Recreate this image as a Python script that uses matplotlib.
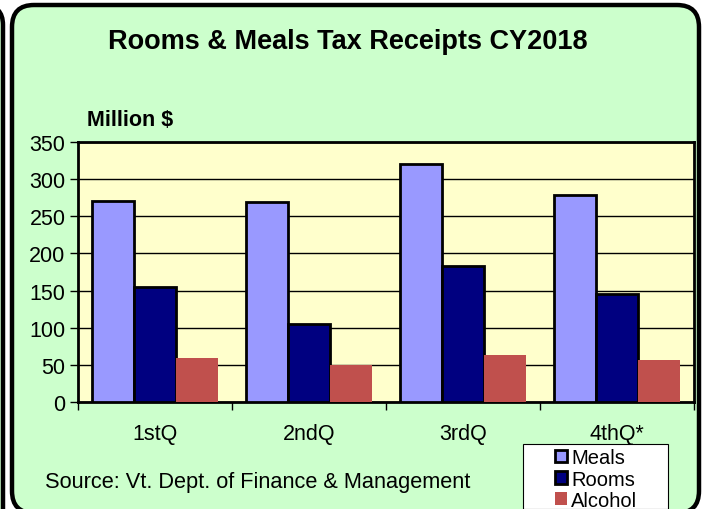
import numpy as np
import matplotlib
matplotlib.use('Agg')
import matplotlib.pyplot as plt
from matplotlib.patches import FancyBboxPatch, Rectangle

plt.rcParams['font.family'] = ['Liberation Sans', 'DejaVu Sans']

# Data
quarters = ['1stQ', '2ndQ', '3rdQ', '4thQ*']
meals = [270, 269, 321, 278]
rooms = [155, 105, 183, 145]
alcohol = [59, 50, 63, 56]
series_names = ['Meals', 'Rooms', 'Alcohol']
colors = ['#9999FF', '#000080', '#C0504D']

W, H = 705, 510
fig = plt.figure(figsize=(W / 100, H / 100), dpi=100)
fig.patch.set_facecolor('white')

# rounded panel frames (pixel coords -> figure fraction)
def px_box(x0, y0, x1, y1, r, fc):
    p = FancyBboxPatch((x0 / W, 1 - y1 / H), (x1 - x0) / W, (y1 - y0) / H,
                       boxstyle='round,pad=0,rounding_size=%f' % (r / W),
                       transform=fig.transFigure, facecolor=fc, edgecolor='black',
                       linewidth=3.2, zorder=-2, mutation_aspect=W / H)
    fig.patches.append(p)

px_box(-120, 6, 3, 540, 20, '#CCFFCC')
px_box(12, 6, 699, 514, 22, '#CCFFCC')

ax = fig.add_axes([78 / W, 1 - 403 / H, (694 - 78) / W, (403 - 143) / H])
ax.set_facecolor('#FFFFCC')

x = np.arange(len(quarters))
bw = 0.272
ax.bar(x - bw, meals, bw, color=colors[0], edgecolor='black', linewidth=2, label=series_names[0], zorder=3)
ax.bar(x, rooms, bw, color=colors[1], edgecolor='black', linewidth=2, label=series_names[1], zorder=3)
ax.bar(x + bw, alcohol, bw, color=colors[2], edgecolor='none', label=series_names[2], zorder=3)

ax.set_xlim(-0.5, len(quarters) - 0.5)
ax.set_ylim(0, 350)
ax.set_yticks(np.arange(0, 351, 50))
ax.yaxis.grid(True, color='black', linewidth=1.0, zorder=1)
ax.set_axisbelow(True)

ax.set_xticks(np.arange(-0.5, len(quarters), 1.0))
ax.set_xticklabels([])
ax.set_xticks(x, minor=True)
ax.set_xticklabels(quarters, minor=True)
ax.tick_params(axis='x', which='major', length=6, width=1, direction='out', color='black')
ax.tick_params(axis='x', which='minor', length=0, pad=15, labelsize=15.5)
ax.tick_params(axis='y', length=6, width=1, labelsize=15.5, pad=3)

for s in ax.spines.values():
    s.set_linewidth(2)
    s.set_color('black')

fig.text(348 / W, 1 - 42 / H, 'Rooms & Meals Tax Receipts CY2018', ha='center', va='center',
         fontsize=19.5, fontweight='bold')
fig.text(87 / W, 1 - 120 / H, 'Million $', ha='left', va='center', fontsize=15.5, fontweight='bold')
fig.text(45 / W, 1 - 483 / H, 'Source: Vt. Dept. of Finance & Management', ha='left', va='center',
         fontsize=15.7)

# legend box
fig.patches.append(Rectangle((523 / W, 0), (668 - 523) / W, 1 - 445 / H, transform=fig.transFigure,
                             facecolor='white', edgecolor='black', linewidth=0.8, zorder=2))
leg = fig.legend(loc='upper left', bbox_to_anchor=(541 / W, 1 - 435 / H), frameon=False,
                 fontsize=14.5, handlelength=0.6, handleheight=0.6, handletextpad=0.2,
                 labelspacing=0.12, borderpad=0.2)
leg.set_zorder(5)

fig.savefig('out.png', dpi=100)
